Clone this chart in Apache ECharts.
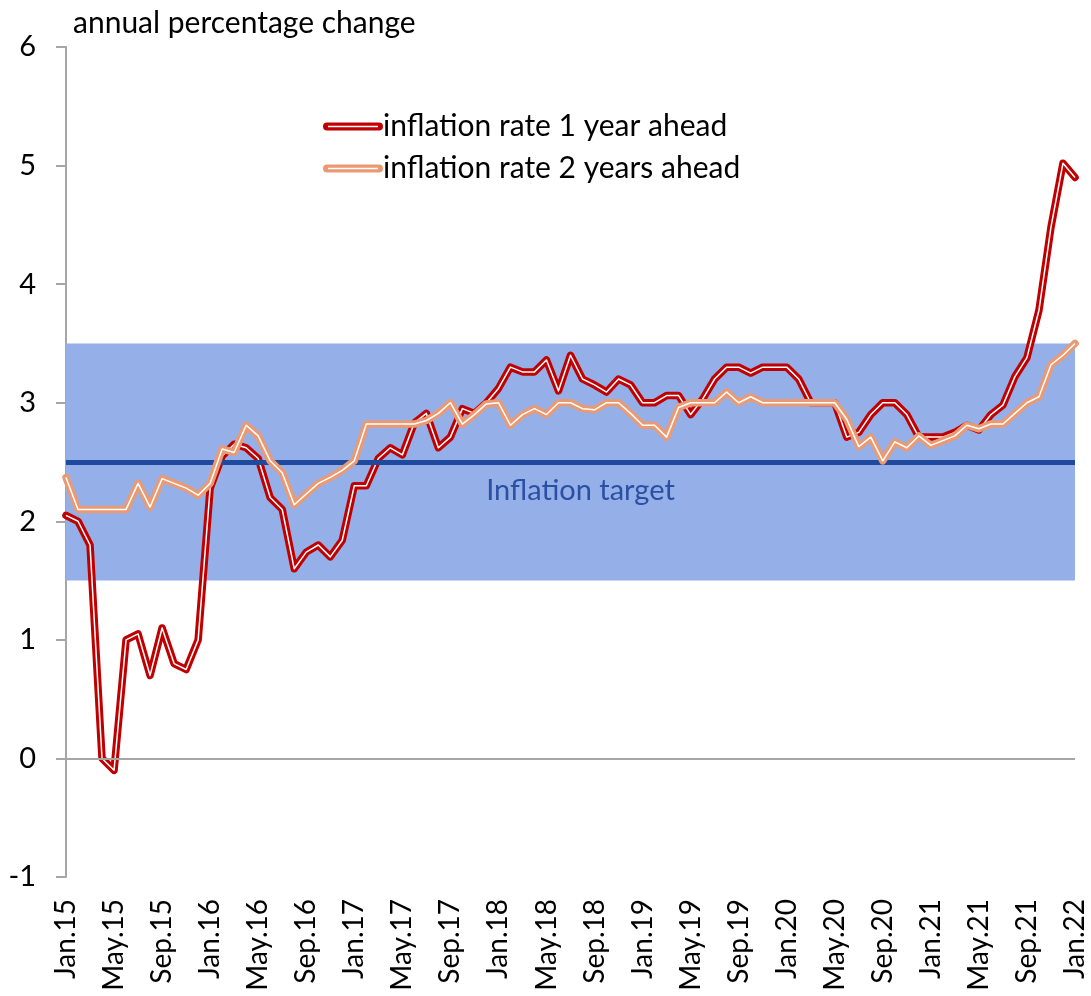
<!DOCTYPE html>
<html>
<head>
<meta charset="utf-8">
<script src="https://cdn.jsdelivr.net/npm/echarts@6/dist/echarts.min.js"></script>
<style>html,body{margin:0;padding:0;background:#fff}#c{width:1091px;height:996px}</style>
</head>
<body>
<div id="c"></div>
<script>
var monthNames = ['Jan','Feb','Mar','Apr','May','Jun','Jul','Aug','Sep','Oct','Nov','Dec'];
var years = ['15','16','17','18','19','20','21','22'];
var categories = [];
for (var y = 0; y < years.length; y++) {
  for (var m = 0; m < 12; m++) {
    if (y === years.length - 1 && m > 0) break;
    categories.push(monthNames[m] + '.' + years[y]);
  }
}
var oneYearAhead = [
  2.05, 2.0, 1.8, 0.0, -0.1, 1.0, 1.05, 0.7, 1.1, 0.8, 0.75, 1.0,
  2.28, 2.55, 2.65, 2.62, 2.53, 2.2, 2.1, 1.6, 1.74, 1.8, 1.7, 1.84,
  2.3, 2.3, 2.53, 2.62, 2.56, 2.83, 2.91, 2.62, 2.71, 2.95, 2.91, 3.0,
  3.12, 3.3, 3.26, 3.26, 3.36, 3.1, 3.4, 3.2, 3.15, 3.09, 3.2, 3.15,
  3.0, 3.0, 3.06, 3.06, 2.9, 3.03, 3.2, 3.3, 3.3, 3.25, 3.3, 3.3,
  3.3, 3.2, 3.0, 3.0, 3.0, 2.71, 2.75, 2.9, 3.0, 3.0, 2.9, 2.71,
  2.71, 2.71, 2.75, 2.81, 2.77, 2.9, 2.98, 3.22, 3.38, 3.78, 4.48, 5.02,
  4.9
];
var twoYearsAhead = [
  2.37, 2.1, 2.1, 2.1, 2.1, 2.1, 2.32, 2.12, 2.36, 2.32, 2.28, 2.22,
  2.32, 2.61, 2.58, 2.81, 2.72, 2.51, 2.41, 2.14, 2.23, 2.32, 2.37, 2.43,
  2.51, 2.82, 2.82, 2.82, 2.82, 2.82, 2.85, 2.91, 3.0, 2.82, 2.9, 2.99,
  3.0, 2.81, 2.9, 2.95, 2.9, 3.0, 3.0, 2.95, 2.94, 3.0, 3.0, 2.91,
  2.81, 2.81, 2.71, 2.96, 3.0, 3.0, 3.0, 3.09, 3.0, 3.05, 3.0, 3.0,
  3.0, 3.0, 3.0, 3.0, 3.0, 2.86, 2.63, 2.71, 2.51, 2.67, 2.62, 2.72,
  2.64, 2.68, 2.72, 2.81, 2.78, 2.82, 2.82, 2.91, 3.0, 3.05, 3.32, 3.4,
  3.5
];
var targetBand = [1.5, 3.5];
var inflationTarget = 2.5;
var yTicks = [-1, 0, 1, 2, 3, 4, 5, 6];

var FONT = 'Lato';
var legendIcon = 'path://M4,0 H56 A4,4 0 0 1 56,8 H4 A4,4 0 0 1 4,0 Z M5,3.3 V4.7 H55 V3.3 Z';

var chart = echarts.init(document.getElementById('c'), null, {renderer: 'canvas'});
chart.setOption({
  animation: false,
  backgroundColor: '#fff',
  textStyle: {fontFamily: FONT},
  title: {
    text: 'annual percentage change',
    left: 68, top: 3,
    textStyle: {fontFamily: FONT, fontSize: 30, fontWeight: 'normal', color: '#000'}
  },
  legend: {
    data: ['inflation rate 1 year ahead', 'inflation rate 2 years ahead'],
    orient: 'vertical',
    left: 318, top: 106,
    itemWidth: 60, itemHeight: 9,
    itemGap: 11,
    icon: legendIcon,
    textStyle: {fontFamily: FONT, fontSize: 30, lineHeight: 31, color: '#000', padding: [0, 0, 0, -5]}
  },
  grid: {left: 66, right: 16, top: 47, bottom: 119, containLabel: false},
  xAxis: {
    type: 'category',
    data: categories,
    boundaryGap: false,
    axisLine: {show: false},
    axisTick: {show: false},
    splitLine: {show: false},
    axisLabel: {
      interval: 3, rotate: 90, margin: 22,
      fontFamily: FONT, fontSize: 28, color: '#000'
    }
  },
  yAxis: {
    type: 'value',
    min: yTicks[0], max: yTicks[yTicks.length - 1], interval: 1,
    axisLine: {show: true, lineStyle: {color: '#A6A6A6', width: 2}},
    axisTick: {show: true, length: 10, lineStyle: {color: '#A6A6A6', width: 2}},
    splitLine: {show: false},
    axisLabel: {margin: 30, fontFamily: FONT, fontSize: 29, color: '#000'}
  },
  series: [
    {
      name: 'reference',
      type: 'line',
      data: [],
      z: 1,
      silent: true,
      markArea: {
        silent: true,
        itemStyle: {color: '#95B0E9'},
        data: [[{yAxis: targetBand[0]}, {yAxis: targetBand[1]}]]
      },
      markLine: {
        silent: true,
        symbol: 'none',
        data: [
          {
            yAxis: inflationTarget,
            lineStyle: {color: '#1F499D', width: 5, type: 'solid'},
            label: {
              show: true, position: 'insideMiddleBottom', distance: 14,
              offset: [10, 0],
              formatter: 'Inflation target',
              fontFamily: FONT, fontSize: 29, color: '#2B4FA3'
            }
          },
          {
            yAxis: 0,
            lineStyle: {color: '#A6A6A6', width: 2, type: 'solid'},
            label: {show: false}
          }
        ]
      }
    },
    {
      name: 'inflation rate 1 year ahead',
      type: 'line',
      data: oneYearAhead,
      symbol: 'none',
      z: 3,
      color: '#C00000',
      lineStyle: {color: '#C00000', width: 7.5, join: 'round', cap: 'round'}
    },
    {
      name: 'one-year-inner',
      type: 'line',
      data: oneYearAhead,
      symbol: 'none',
      silent: true,
      z: 4,
      lineStyle: {color: '#ffffff', width: 1.5, join: 'round'}
    },
    {
      name: 'inflation rate 2 years ahead',
      type: 'line',
      data: twoYearsAhead,
      symbol: 'none',
      z: 5,
      color: '#EA9A72',
      lineStyle: {color: '#EA9A72', width: 7.5, join: 'round', cap: 'round'}
    },
    {
      name: 'two-year-inner',
      type: 'line',
      data: twoYearsAhead,
      symbol: 'none',
      silent: true,
      z: 6,
      lineStyle: {color: '#ffffff', width: 1.5, join: 'round'}
    }
  ]
});
</script>
</body>
</html>
